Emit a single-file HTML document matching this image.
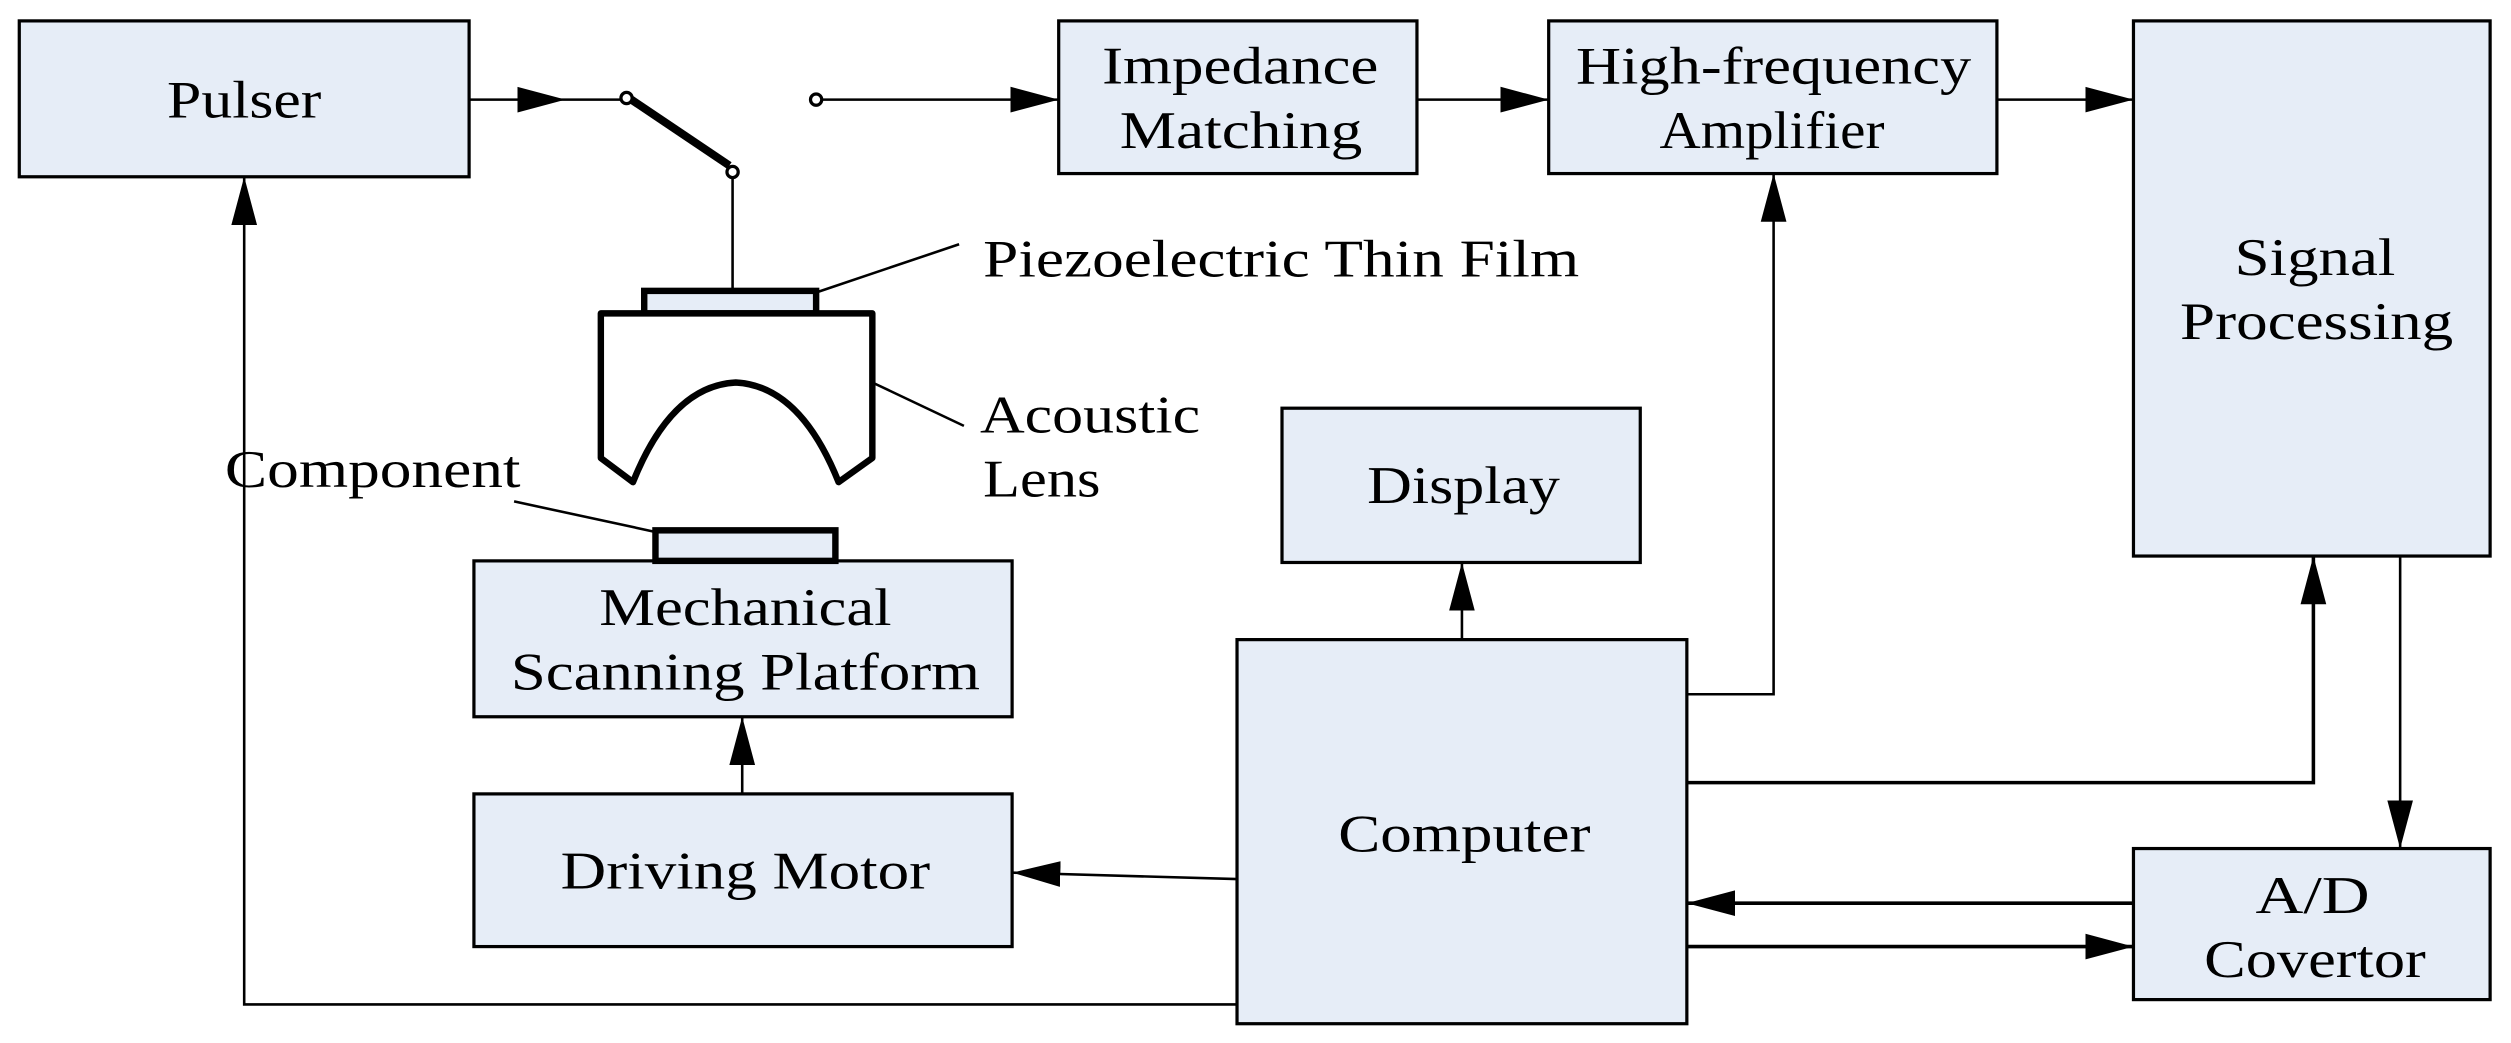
<!DOCTYPE html>
<html><head><meta charset="utf-8"><style>
html,body{margin:0;padding:0;background:#fff;}
svg{display:block;}
text{font-family:"Liberation Serif",serif;font-size:33px;fill:#000;}
</style></head><body>
<svg width="2511" height="1043" viewBox="0 0 1563 649" preserveAspectRatio="none" xmlns="http://www.w3.org/2000/svg">
<defs>
<marker id="b" viewBox="0 0 30 20" refX="30" refY="10" markerWidth="30" markerHeight="20" orient="auto" markerUnits="userSpaceOnUse">
<path d="M0,2 L30,10 L0,18 z" fill="#000"/></marker>
</defs>
<g fill="#e6edf7" stroke="#000" stroke-width="2">
<rect x="12" y="13" width="280" height="97"/>
<rect x="659" y="13" width="223" height="95"/>
<rect x="964" y="13" width="279" height="95"/>
<rect x="1328" y="13" width="222" height="333"/>
<rect x="798" y="254" width="223" height="96"/>
<rect x="770" y="398" width="280" height="239"/>
<rect x="1328" y="528" width="222" height="94"/>
<rect x="295" y="349" width="335" height="97"/>
<rect x="295" y="494" width="335" height="95"/>
<rect x="408" y="330" width="112" height="19" stroke-width="4"/>
<rect x="401" y="181" width="107" height="14" stroke-width="4"/>
</g>
<path d="M374,195 L543,195 L543,285 L522,300 Q498,240 458,238 Q418,240 394,300 L374,285 Z" fill="#fff" stroke="#000" stroke-width="4" stroke-linejoin="round"/>
<g stroke="#000" stroke-width="1.6" fill="none">
<line x1="292" y1="62" x2="352" y2="62" marker-end="url(#b)"/>
<line x1="352" y1="62" x2="387" y2="62"/>
<line x1="393" y1="62" x2="454" y2="103" stroke-width="5"/>
<line x1="456" y1="110" x2="456" y2="181"/>
<line x1="512" y1="62" x2="659" y2="62" marker-end="url(#b)"/>
<line x1="882" y1="62" x2="964" y2="62" marker-end="url(#b)"/>
<line x1="1243" y1="62" x2="1328" y2="62" marker-end="url(#b)"/>
<polyline points="1050,432 1104,432 1104,108" marker-end="url(#b)"/>
<polyline points="1050,487 1440,487 1440,346" marker-end="url(#b)" stroke-width="2.2"/>
<line x1="1494" y1="346" x2="1494" y2="528" marker-end="url(#b)"/>
<line x1="1328" y1="562" x2="1050" y2="562" marker-end="url(#b)" stroke-width="2.2"/>
<line x1="1050" y1="589" x2="1328" y2="589" marker-end="url(#b)" stroke-width="2.2"/>
<line x1="910" y1="398" x2="910" y2="350" marker-end="url(#b)"/>
<line x1="770" y1="547" x2="630" y2="543" marker-end="url(#b)"/>
<line x1="462" y1="494" x2="462" y2="446" marker-end="url(#b)"/>
<polyline points="770,625 152,625 152,110" marker-end="url(#b)"/>
<line x1="508" y1="182" x2="597" y2="152"/>
<line x1="543" y1="238" x2="600" y2="265"/>
<line x1="320" y1="312" x2="408" y2="331"/>
</g>
<g fill="#fff" stroke="#000" stroke-width="2">
<circle cx="390" cy="61" r="3.5"/>
<circle cx="456" cy="107" r="3.5"/>
<circle cx="508" cy="62" r="3.5"/>
</g>
<g>
<text x="104" y="73" textLength="96" lengthAdjust="spacingAndGlyphs">Pulser</text>
<text x="686" y="52" textLength="172" lengthAdjust="spacingAndGlyphs">Impedance</text>
<text x="697" y="92" textLength="151" lengthAdjust="spacingAndGlyphs">Matching</text>
<text x="981" y="52" textLength="246" lengthAdjust="spacingAndGlyphs">High-frequency</text>
<text x="1033" y="92" textLength="140" lengthAdjust="spacingAndGlyphs">Amplifier</text>
<text x="1391" y="171" textLength="100" lengthAdjust="spacingAndGlyphs">Signal</text>
<text x="1357" y="211" textLength="170" lengthAdjust="spacingAndGlyphs">Processing</text>
<text x="851" y="313" textLength="120" lengthAdjust="spacingAndGlyphs">Display</text>
<text x="833" y="530" textLength="157" lengthAdjust="spacingAndGlyphs">Computer</text>
<text x="1404" y="568" textLength="71" lengthAdjust="spacingAndGlyphs">A/D</text>
<text x="1372" y="608" textLength="138" lengthAdjust="spacingAndGlyphs">Covertor</text>
<text x="373" y="389" textLength="182" lengthAdjust="spacingAndGlyphs">Mechanical</text>
<text x="318" y="429" textLength="292" lengthAdjust="spacingAndGlyphs">Scanning Platform</text>
<text x="349" y="553" textLength="230" lengthAdjust="spacingAndGlyphs">Driving Motor</text>
<text x="612" y="172" textLength="371" lengthAdjust="spacingAndGlyphs">Piezoelectric Thin Film</text>
<text x="610" y="269" textLength="137" lengthAdjust="spacingAndGlyphs">Acoustic</text>
<text x="612" y="309" textLength="73" lengthAdjust="spacingAndGlyphs">Lens</text>
<text x="140" y="303" textLength="184" lengthAdjust="spacingAndGlyphs">Component</text>
</g>
</svg>
</body></html>
